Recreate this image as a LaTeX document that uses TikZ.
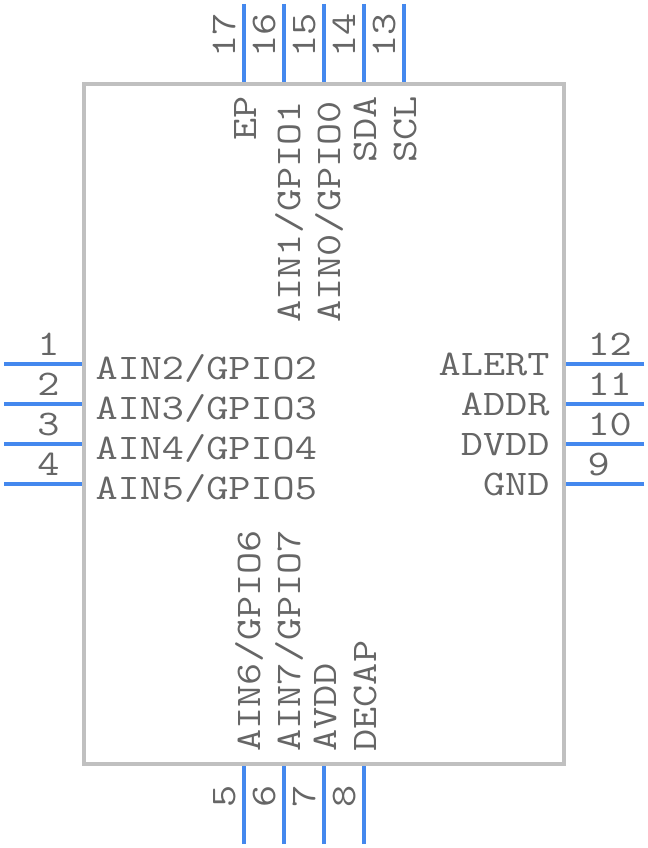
\documentclass[tikz,border=0pt]{standalone}
\usepackage{fontspec}
\setmonofont[FakeStretch=1.195]{Latin Modern Mono}
\tikzset{every picture/.style={line width=0.75pt}}
\tikzset{pinline/.style={color={rgb, 255:red, 68; green, 136; blue, 238},line width=3pt},
  bodybox/.style={color={rgb, 255:red, 192; green, 192; blue, 192},line width=3pt},
  pintext/.style={inner sep=0pt,text={rgb, 255:red, 102; green, 102; blue, 102},font=\fontsize{27}{27}\selectfont\ttfamily}}

\begin{document}
\begin{tikzpicture}[x=0.75pt,y=0.75pt,yscale=-1,xscale=1]
\useasboundingbox (0,0) rectangle (648,848);

%Body
\draw [bodybox]   (84,84) -- (564,84) -- (564,764) -- (84,764) -- cycle ;

%Pin ends
\coordinate (l1a) at (4,364); \coordinate (l1b) at (82,364);
\coordinate (l2a) at (4,404); \coordinate (l2b) at (82,404);
\coordinate (l3a) at (4,444); \coordinate (l3b) at (82,444);
\coordinate (l4a) at (4,484); \coordinate (l4b) at (82,484);
\coordinate (b5a) at (244,844); \coordinate (b5b) at (244,766);
\coordinate (b6a) at (284,844); \coordinate (b6b) at (284,766);
\coordinate (b7a) at (324,844); \coordinate (b7b) at (324,766);
\coordinate (b8a) at (364,844); \coordinate (b8b) at (364,766);
\coordinate (r9a) at (644,484); \coordinate (r9b) at (566,484);
\coordinate (r10a) at (644,444); \coordinate (r10b) at (566,444);
\coordinate (r11a) at (644,404); \coordinate (r11b) at (566,404);
\coordinate (r12a) at (644,364); \coordinate (r12b) at (566,364);
\coordinate (t13a) at (404,4); \coordinate (t13b) at (404,82);
\coordinate (t14a) at (364,4); \coordinate (t14b) at (364,82);
\coordinate (t15a) at (324,4); \coordinate (t15b) at (324,82);
\coordinate (t16a) at (284,4); \coordinate (t16b) at (284,82);
\coordinate (t17a) at (244,4); \coordinate (t17b) at (244,82);

%Straight Lines
\draw [pinline]   (l1a) -- (l1b) ;
\draw [pinline]   (l2a) -- (l2b) ;
\draw [pinline]   (l3a) -- (l3b) ;
\draw [pinline]   (l4a) -- (l4b) ;
\draw [pinline]   (b5a) -- (b5b) ;
\draw [pinline]   (b6a) -- (b6b) ;
\draw [pinline]   (b7a) -- (b7b) ;
\draw [pinline]   (b8a) -- (b8b) ;
\draw [pinline]   (r9a) -- (r9b) ;
\draw [pinline]   (r10a) -- (r10b) ;
\draw [pinline]   (r11a) -- (r11b) ;
\draw [pinline]   (r12a) -- (r12b) ;
\draw [pinline]   (t13a) -- (t13b) ;
\draw [pinline]   (t14a) -- (t14b) ;
\draw [pinline]   (t15a) -- (t15b) ;
\draw [pinline]   (t16a) -- (t16b) ;
\draw [pinline]   (t17a) -- (t17b) ;

% Text Node
\node (num1) at (60,355) [pintext,anchor=base east] {1};
\node (num2) at (60,395) [pintext,anchor=base east] {2};
\node (num3) at (60,435) [pintext,anchor=base east] {3};
\node (num4) at (60,475) [pintext,anchor=base east] {4};
\node (num5) at (235,808) [pintext,anchor=base west,rotate=90] {5};
\node (num6) at (275,808) [pintext,anchor=base west,rotate=90] {6};
\node (num7) at (315,808) [pintext,anchor=base west,rotate=90] {7};
\node (num8) at (355,808) [pintext,anchor=base west,rotate=90] {8};
\node (num9) at (587,475) [pintext,anchor=base west] {9};
\node (num10) at (587,435) [pintext,anchor=base west] {10};
\node (num11) at (587,395) [pintext,anchor=base west] {11};
\node (num12) at (587,355) [pintext,anchor=base west] {12};
\node (num13) at (395,58) [pintext,anchor=base west,rotate=90] {13};
\node (num14) at (355,58) [pintext,anchor=base west,rotate=90] {14};
\node (num15) at (315,58) [pintext,anchor=base west,rotate=90] {15};
\node (num16) at (275,58) [pintext,anchor=base west,rotate=90] {16};
\node (num17) at (235,58) [pintext,anchor=base west,rotate=90] {17};

% Text Node
\node (name1) at (95,379.5) [pintext,anchor=base west] {AIN2/GPIO2};
\node (name2) at (95,419.5) [pintext,anchor=base west] {AIN3/GPIO3};
\node (name3) at (95,459.5) [pintext,anchor=base west] {AIN4/GPIO4};
\node (name4) at (95,499.5) [pintext,anchor=base west] {AIN5/GPIO5};
\node (name5) at (260,752) [pintext,anchor=base west,rotate=90] {AIN6/GPIO6};
\node (name6) at (300,752) [pintext,anchor=base west,rotate=90] {AIN7/GPIO7};
\node (name7) at (336,752) [pintext,anchor=base west,rotate=90] {AVDD};
\node (name8) at (376,752) [pintext,anchor=base west,rotate=90] {DECAP};
\node (name9) at (550,495.5) [pintext,anchor=base east] {GND};
\node (name10) at (550,455.5) [pintext,anchor=base east] {DVDD};
\node (name11) at (550,415.5) [pintext,anchor=base east] {ADDR};
\node (name12) at (550,375.5) [pintext,anchor=base east] {ALERT};
\node (name13) at (416,96) [pintext,anchor=base east,rotate=90] {SCL};
\node (name14) at (376,96) [pintext,anchor=base east,rotate=90] {SDA};
\node (name15) at (340,323) [pintext,anchor=base west,rotate=90] {AIN0/GPIO0};
\node (name16) at (300,323) [pintext,anchor=base west,rotate=90] {AIN1/GPIO1};
\node (name17) at (256,96) [pintext,anchor=base east,rotate=90] {EP};

\end{tikzpicture}
\end{document}
